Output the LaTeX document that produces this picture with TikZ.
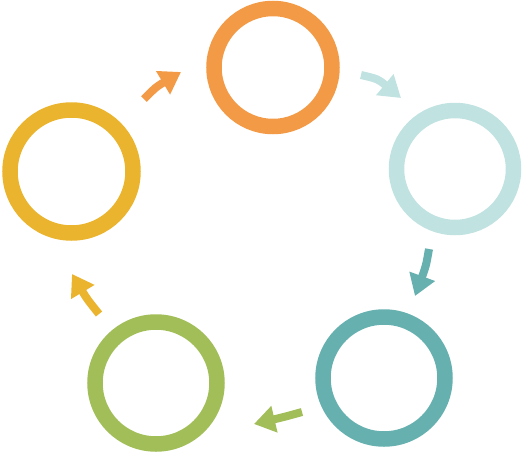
\documentclass[tikz,border=0pt]{standalone}
\usetikzlibrary{arrows.meta}
\definecolor{corange}{HTML}{F39A47}
\definecolor{ccyan}{HTML}{C0E2E1}
\definecolor{cteal}{HTML}{66B1AF}
\definecolor{cgreen}{HTML}{A1BE58}
\definecolor{cyellow}{HTML}{EAB42E}
\tikzset{
  ring/.style={circle, draw=#1, line width=15.5pt, inner sep=0pt, fill=none},
  cyclearrow/.style={draw=#1, line width=8pt,
    -{Triangle[width=26pt,length=21pt,fill=#1]}}
}
\begin{document}
\begin{tikzpicture}[x=1pt,y=-1pt]
\useasboundingbox (0,0) rectangle (523,453);
\node[ring=corange, minimum size=118pt] (o) at (273,67.5) {};
\node[ring=ccyan, minimum size=117pt] (c) at (455,169) {};
\node[ring=cteal, minimum size=122pt] (t) at (384,378) {};
\node[ring=cgreen, minimum size=122pt] (g) at (156,383) {};
\node[ring=cyellow, minimum size=123pt] (y) at (71.5,171.5) {};
% arrow end points
\coordinate (a1s) at (144,99);  \coordinate (a1e) at (181,72);
\coordinate (a2s) at (361,75);  \coordinate (a2e) at (401,98);
\coordinate (a3s) at (429,249); \coordinate (a3e) at (415,296);
\coordinate (a4s) at (302,412); \coordinate (a4e) at (254,424);
\coordinate (a5s) at (99,314);  \coordinate (a5e) at (72,274);
\path[cyclearrow=corange] (a1s) .. controls (156,87) .. (a1e);
\path[cyclearrow=ccyan] (a2s) .. controls (378,79) .. (a2e);
\path[cyclearrow=cteal] (a3s) .. controls (426,266) .. (a3e);
\path[cyclearrow=cgreen] (a4s) .. controls (284,417) .. (a4e);
\path[cyclearrow=cyellow] (a5s) .. controls (87,299) .. (a5e);
\end{tikzpicture}
\end{document}
